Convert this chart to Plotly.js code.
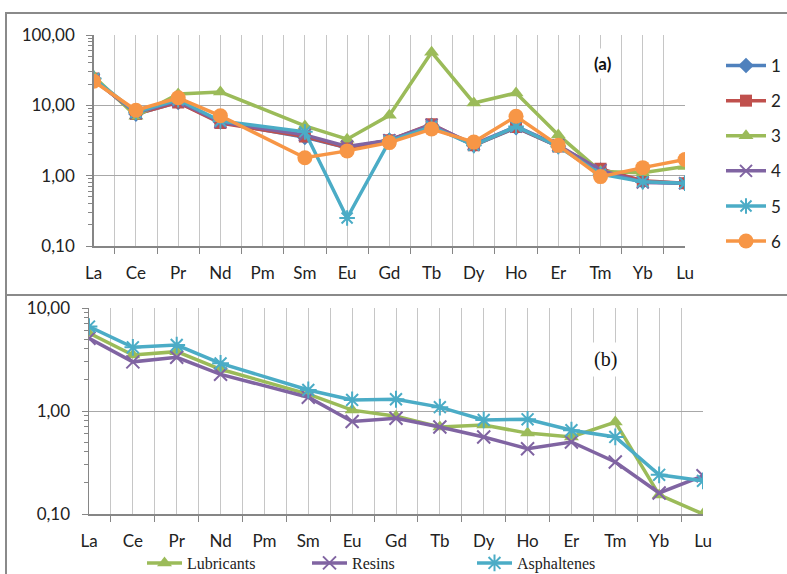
<!DOCTYPE html>
<html>
<head>
<meta charset="utf-8">
<script src="https://cdn.plot.ly/plotly-3.0.1.min.js"></script>
<style>html,body{margin:0;padding:0;background:#fff;}#chart{width:787px;height:574px;}</style>
</head>
<body>
<div id="chart"></div>
<script>
// Element categories (shared by both panels)
const elements = ["La","Ce","Pr","Nd","Pm","Sm","Eu","Gd","Tb","Dy","Ho","Er","Tm","Yb","Lu"];

// Panel (a): samples 1-6 (Pm not analysed -> null)
const s1 = [24, 7.5, 11.0, 5.8, null, 3.5, 2.5, 3.2, 5.2, 2.7, 4.8, 2.6, 1.20, 0.82, 0.78];
const s2 = [24, 7.5, 11.0, 5.6, null, 3.6, 2.5, 3.2, 5.4, 2.7, 4.9, 2.6, 1.25, 0.85, 0.78];
const s3 = [26, 7.0, 14.5, 15.5, null, 5.1, 3.3, 7.2, 57, 10.8, 15.0, 3.8, 1.15, 1.10, 1.35];
const s4 = [23, 7.8, 11.5, 5.8, null, 3.8, 2.6, 3.2, 5.3, 2.8, 5.0, 2.7, 1.20, 0.80, 0.78];
const s5 = [24, 8.0, 12.0, 6.0, null, 4.2, 0.25, 3.1, 5.0, 2.7, 5.0, 2.6, 1.05, 0.82, 0.78];
const s6 = [22, 8.5, 12.8, 7.1, null, 1.8, 2.25, 2.95, 4.6, 3.0, 7.0, 2.7, 0.97, 1.30, 1.70];
const seriesA = [s1, s2, s3, s4, s5, s6];
const namesA = ["1","2","3","4","5","6"];

// Panel (b): fractions
const lubricants  = [5.7, 3.5, 3.77, 2.54, null, 1.46, 1.02, 0.89, 0.70, 0.73, 0.61, 0.56, 0.78, 0.153, 0.10];
const resins      = [5.08, 3.0, 3.32, 2.27, null, 1.36, 0.79, 0.85, 0.70, 0.56, 0.43, 0.50, 0.32, 0.16, 0.235];
const asphaltenes = [6.6, 4.15, 4.37, 2.9, null, 1.6, 1.28, 1.3, 1.09, 0.82, 0.83, 0.65, 0.56, 0.24, 0.21];
const seriesB = [lubricants, resins, asphaltenes];
const namesB = ["Lubricants","Resins","Asphaltenes"];

// Tick labels
const yTicksA = [0.1, 1, 10, 100];
const yTextA = ["0,10","1,00","10,00","100,00"];
const yTicksB = [0.1, 1, 10];
const yTextB = ["0,10","1,00","10,00"];

// Styles
const colorsA = ["#4F81BD","#C0504D","#9BBB59","#8064A2","#4BACC6","#F79646"];
const symbolsA = ["diamond","square","triangle-up","x-thin-open","asterisk-open","circle"];
const sizesA = [12, 12, 13, 12, 13, 15];
const colorsB = ["#9BBB59","#8064A2","#4BACC6"];
const symbolsB = ["triangle-up","x-thin-open","asterisk-open"];
const sizesB = [13, 13, 14];

const W = 787, H = 574;
const px = x => x / W;
const py = y => 1 - y / H;

const catIdx = elements.map((_, i) => i);
const halfIdx = elements.slice(1).map((_, i) => i + 0.5);
function logMinor(lo, hi) {
  const out = [];
  for (let e = lo; e < hi; e++) for (let m = 2; m <= 9; m++) out.push(m * Math.pow(10, e));
  return out;
}

const traces = [];
seriesA.forEach((s, i) => {
  traces.push({
    x: catIdx, y: s, name: namesA[i], xaxis: "x", yaxis: "y",
    type: "scatter", mode: "lines+markers", connectgaps: true,
    line: {color: colorsA[i], width: 3.5},
    marker: {symbol: symbolsA[i], size: sizesA[i], color: colorsA[i],
             line: {color: colorsA[i], width: (symbolsA[i].indexOf("open") >= 0 ? 2 : 0)}},
    legend: "legend", legendgroup: "g" + i
  });
});
seriesB.forEach((s, i) => {
  traces.push({
    x: catIdx, y: s, name: namesB[i], xaxis: "x2", yaxis: "y2",
    type: "scatter", mode: "lines+markers", connectgaps: true,
    line: {color: colorsB[i], width: 3.5},
    marker: {symbol: symbolsB[i], size: sizesB[i], color: colorsB[i],
             line: {color: colorsB[i], width: (symbolsB[i].indexOf("open") >= 0 ? 2 : 0)}},
    legend: "legend2"
  });
});

const tickFont = {family: "Lato, 'Open Sans', sans-serif", size: 17, color: "#222"};
const gridC = "#c6c6c6", axC = "#868686";

function xAxis(dom, anchor) {
  return {
    domain: dom, anchor: anchor, range: [0, 14], fixedrange: true,
    tickmode: "array", tickvals: catIdx, ticktext: elements, ticks: "",
    showgrid: true, gridcolor: gridC, gridwidth: 1,
    showline: true, linecolor: axC, linewidth: 1.5, zeroline: false,
    tickfont: tickFont, ticklabelstandoff: 11,
    minor: {tickmode: "array", tickvals: halfIdx, ticks: "outside", ticklen: 6,
            tickcolor: axC, tickwidth: 1, showgrid: true, gridcolor: gridC, gridwidth: 1}
  };
}
function yAxis(dom, anchor, range, tv, tt, lo, hi) {
  return {
    domain: dom, anchor: anchor, type: "log", range: range, fixedrange: true,
    tickmode: "array", tickvals: tv, ticktext: tt, ticks: "outside", ticklen: 6,
    tickcolor: axC, showgrid: true, gridcolor: "#a8a8a8", gridwidth: 1,
    showline: true, linecolor: axC, linewidth: 1.5, zeroline: false,
    tickfont: tickFont, ticklabelstandoff: 8,
    minor: {tickmode: "array", tickvals: logMinor(lo, hi), ticks: "outside", ticklen: 4,
            tickcolor: axC, tickwidth: 1, showgrid: false}
  };
}

const layout = {
  width: W, height: H,
  margin: {l: 0, r: 0, t: 0, b: 0, autoexpand: false},
  paper_bgcolor: "#fff", plot_bgcolor: "rgba(0,0,0,0)",
  showlegend: true,
  xaxis: xAxis([px(93.7), px(685)], "y"),
  yaxis: yAxis([py(246), py(35)], "x", [-1, 2], yTicksA, yTextA, -1, 2),
  xaxis2: xAxis([px(89), px(703)], "y2"),
  yaxis2: yAxis([py(514), py(308)], "x2", [-1, 1], yTicksB, yTextB, -1, 1),
  legend: {
    x: px(721), y: py(48), xanchor: "left", yanchor: "top",
    orientation: "v", tracegroupgap: 10, itemwidth: 40, bgcolor: "rgba(0,0,0,0)",
    font: {family: "Lato, 'Open Sans', sans-serif", size: 17, color: "#222"}
  },
  legend2: {
    x: px(142), y: py(580), xanchor: "left", yanchor: "bottom",
    orientation: "h", entrywidth: 115, entrywidthmode: "pixels", itemwidth: 35,
    bgcolor: "rgba(0,0,0,0)",
    font: {family: "'Liberation Serif', 'Times New Roman', serif", size: 16, color: "#222"}
  },
  annotations: [
    {xref: "paper", yref: "paper", x: px(603), y: py(64), text: "<b>(a)</b>", showarrow: false,
     font: {family: "Lato, sans-serif", size: 17, color: "#111"}, bgcolor: "#fff",
     borderpad: 4, xanchor: "center", yanchor: "middle"},
    {xref: "paper", yref: "paper", x: px(605), y: py(359), text: "(b)", showarrow: false,
     font: {family: "'Liberation Serif', serif", size: 20, color: "#111"}, bgcolor: "#fff",
     borderpad: 5, xanchor: "center", yanchor: "middle"}
  ],
  shapes: [
    {type: "path", xref: "paper", yref: "paper", path:
      `M ${px(800)},${py(13)} L ${px(6)},${py(13)} L ${px(6)},${py(600)}`,
     line: {color: "#8a8a8a", width: 2}},
    {type: "line", xref: "paper", yref: "paper", x0: px(6), x1: px(800), y0: py(295), y1: py(295),
     line: {color: "#8a8a8a", width: 2}}
  ]
};

Plotly.newPlot("chart", traces, layout, {displayModeBar: false, staticPlot: true});
</script>
</body>
</html>
